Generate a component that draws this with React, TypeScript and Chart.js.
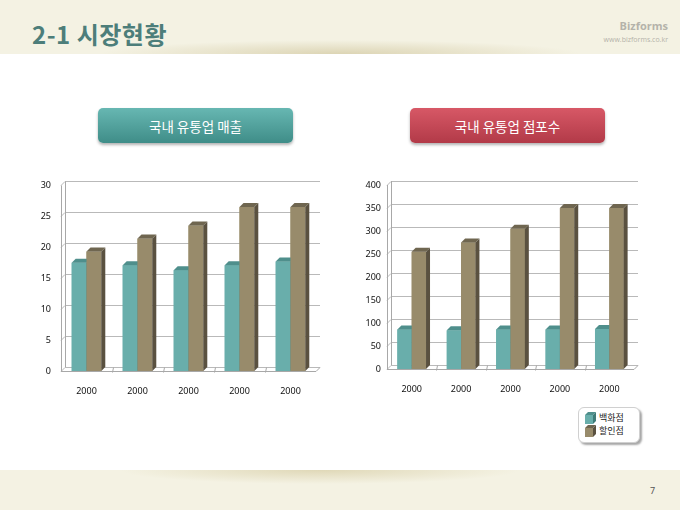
import React, { useEffect, useRef } from 'react';
import { Chart, registerables } from 'chart.js';

Chart.register(...registerables);

// ---------- data ----------
const categories = ['2000', '2000', '2000', '2000', '2000'];
const seriesNames = ['백화점', '할인점'];
const salesDept = [17.5, 17.1, 16.3, 17.1, 17.7];
const salesDiscount = [19.3, 21.4, 23.5, 26.5, 26.5];
const storesDept = [86, 84, 86, 86, 87];
const storesDiscount = [255, 275, 305, 350, 350];
const salesTicks = [0, 5, 10, 15, 20, 25, 30];
const storesTicks = [0, 50, 100, 150, 200, 250, 300, 350, 400];
const chartTitles = ['국내 유통업 매출', '국내 유통업 점포수'];
const slideTitle = '2-1 시장현황';
const pageNumber = '7';

// ---------- styles ----------
const FRONT = ['#69aeab', '#988b6b'];
const SIDE = ['#3f7b78', '#5a5140'];
const TOP = ['#4f8f8c', '#6f6650'];
const DX = 4;
const DY = 4;

const wallPlugin = {
  id: 'wall3d',
  beforeDatasetsDraw(chart: any) {
    const { ctx, chartArea: a, scales } = chart;
    const y = scales.y;
    const n = chart.data.labels.length;
    ctx.save();
    ctx.lineWidth = 1;
    ctx.strokeStyle = '#b9b9b9';
    y.ticks.forEach((t: any) => {
      const py = Math.round(y.getPixelForValue(t.value)) + 0.5;
      ctx.beginPath();
      ctx.moveTo(a.left, py);
      ctx.lineTo(a.left + DX, py - DY);
      ctx.lineTo(a.right + DX, py - DY);
      ctx.stroke();
    });
    ctx.strokeStyle = '#a8a8a8';
    const L = Math.round(a.left) + 0.5;
    ctx.beginPath();
    ctx.moveTo(L, a.top);
    ctx.lineTo(L, a.bottom);
    ctx.moveTo(L + DX, a.top - DY);
    ctx.lineTo(L + DX, a.bottom - DY);
    ctx.stroke();
    // floor
    const B = Math.round(a.bottom) + 0.5;
    ctx.beginPath();
    ctx.moveTo(a.left, B);
    ctx.lineTo(a.right, B);
    ctx.lineTo(a.right + DX, B - DY);
    ctx.stroke();
    for (let i = 1; i < n; i++) {
      const xb = Math.round(a.left + (i * a.width) / n) + 0.5;
      ctx.beginPath();
      ctx.moveTo(xb, B + 1);
      ctx.lineTo(xb + 1, B - DY);
      ctx.stroke();
    }
    ctx.restore();
  },
  afterDatasetsDraw(chart: any) {
    const { ctx } = chart;
    ctx.save();
    chart.data.datasets.forEach((_: any, di: number) => {
      const meta = chart.getDatasetMeta(di);
      meta.data.forEach((el: any) => {
        const { x, y, base, width } = el.getProps(['x', 'y', 'base', 'width'], true);
        const l = x - width / 2;
        const r = x + width / 2;
        ctx.fillStyle = FRONT[di];
        ctx.fillRect(l, y, width, base - y);
        ctx.fillStyle = SIDE[di];
        ctx.beginPath();
        ctx.moveTo(r, y);
        ctx.lineTo(r + DX, y - DY);
        ctx.lineTo(r + DX, base - DY);
        ctx.lineTo(r, base);
        ctx.closePath();
        ctx.fill();
        ctx.fillStyle = TOP[di];
        ctx.beginPath();
        ctx.moveTo(l, y);
        ctx.lineTo(l + DX, y - DY);
        ctx.lineTo(r + DX, y - DY);
        ctx.lineTo(r, y);
        ctx.closePath();
        ctx.fill();
      });
    });
    ctx.restore();
  },
};

type Props = {
  left: number;
  top: number;
  w: number;
  h: number;
  a: number[];
  b: number[];
  ticks: number[];
  yWidth: number;
  xHeight: number;
  padTop: number;
  padRight: number;
  yPad: number;
};

function Bar3D(p: Props) {
  const ref = useRef<HTMLCanvasElement>(null);
  useEffect(() => {
    const chart = new Chart(ref.current as HTMLCanvasElement, {
      type: 'bar',
      data: {
        labels: categories,
        datasets: [
          { label: seriesNames[0], data: p.a, backgroundColor: FRONT[0], borderWidth: 0 },
          { label: seriesNames[1], data: p.b, backgroundColor: FRONT[1], borderWidth: 0 },
        ],
      },
      options: {
        responsive: false,
        animation: false,
        devicePixelRatio: 1,
        datasets: { bar: { categoryPercentage: 0.58, barPercentage: 1 } },
        layout: { padding: { left: 0, top: p.padTop, right: p.padRight, bottom: 0 } },
        plugins: { legend: { display: false }, tooltip: { enabled: false }, title: { display: false } },
        scales: {
          x: {
            grid: { display: false },
            border: { display: false },
            ticks: { color: '#111', font: { family: 'Noto Sans', size: 9 }, padding: 7, maxRotation: 0 },
            afterFit: (s: any) => {
              s.height = p.xHeight;
            },
          },
          y: {
            min: p.ticks[0],
            max: p.ticks[p.ticks.length - 1],
            grid: { display: false, drawTicks: false },
            border: { display: false },
            ticks: { color: '#111', font: { family: 'Noto Sans', size: 9 }, padding: p.yPad },
            afterBuildTicks: (s: any) => {
              s.ticks = p.ticks.map((v) => ({ value: v }));
            },
            afterFit: (s: any) => {
              s.width = p.yWidth;
            },
          },
        },
      },
      plugins: [wallPlugin],
    });
    return () => chart.destroy();
  }, []);
  return (
    <canvas
      ref={ref}
      width={p.w}
      height={p.h}
      style={{ position: 'absolute', left: p.left, top: p.top, width: p.w, height: p.h }}
    />
  );
}

function Button({ left, text, top, bottom }: { left: number; text: string; top: string; bottom: string }) {
  return (
    <div
      style={{
        position: 'absolute',
        left,
        top: 108,
        width: 195,
        height: 35,
        borderRadius: 5,
        background: `linear-gradient(${top}, ${bottom})`,
        boxShadow: '0 2px 3px rgba(0,0,0,0.3)',
        color: '#fff',
        font: '13.5px "Noto Sans CJK KR"',
        display: 'flex',
        alignItems: 'center',
        justifyContent: 'center',
      }}
    >
      {text}
    </div>
  );
}

function Cube({ color, side, topc }: { color: string; side: string; topc: string }) {
  return (
    <svg width={12} height={12} style={{ display: 'block' }}>
      <rect x={0} y={3} width={8} height={9} fill={color} />
      <polygon points="0,3 3,0 11,0 8,3" fill={topc} />
      <polygon points="8,3 11,0 11,9 8,12" fill={side} />
    </svg>
  );
}

export default function App() {
  return (
    <div
      style={{
        position: 'fixed',
        left: 0,
        top: 0,
        width: 680,
        height: 510,
        background: '#fff',
        overflow: 'hidden',
        fontFamily: '"Noto Sans CJK KR", "Noto Sans", sans-serif',
      }}
    >
      {/* header */}
      <div style={{ position: 'absolute', left: 0, top: 0, width: 680, height: 54, background: '#f4f2e3' }} />
      <div
        style={{
          position: 'absolute',
          left: 100,
          top: 40,
          width: 480,
          height: 14,
          background: 'radial-gradient(ellipse 50% 100% at 50% 100%, rgba(210,200,160,0.7), rgba(244,242,227,0) 100%)',
        }}
      />
      <div
        style={{
          position: 'absolute',
          left: 32,
          top: 20,
          font: 'bold 24px "Noto Sans CJK KR"',
          letterSpacing: '0.5px',
          color: '#4d7e7a',
          lineHeight: '28px',
          whiteSpace: 'nowrap',
        }}
      >
        {slideTitle}
      </div>
      <div
        style={{
          position: 'absolute',
          right: 12,
          top: 19,
          font: 'bold 11px "Open Sans"',
          color: '#b4b3aa',
          lineHeight: '14px',
        }}
      >
        Bizforms
      </div>
      <div
        style={{
          position: 'absolute',
          right: 12,
          top: 35,
          font: '7px "Open Sans"',
          color: '#b4b3aa',
          lineHeight: '9px',
        }}
      >
        www.bizforms.co.kr
      </div>

      {/* footer */}
      <div style={{ position: 'absolute', left: 0, top: 470, width: 680, height: 40, background: '#f4f2e3' }} />
      <div
        style={{
          position: 'absolute',
          left: 120,
          top: 470,
          width: 400,
          height: 14,
          background: 'radial-gradient(ellipse 50% 100% at 50% 0%, rgba(215,205,165,0.7), rgba(244,242,227,0) 100%)',
        }}
      />
      <div style={{ position: 'absolute', left: 650, top: 484, font: '9px "Noto Sans"', color: '#555' }}>{pageNumber}</div>

      {/* buttons */}
      <Button left={98} text={chartTitles[0]} top="#67b7b2" bottom="#3f8d88" />
      <Button left={410} text={chartTitles[1]} top="#d75866" bottom="#b23a48" />

      {/* charts */}
      <Bar3D
        left={20}
        top={170}
        w={310}
        h={235}
        a={salesDept}
        b={salesDiscount}
        ticks={salesTicks}
        yWidth={41}
        xHeight={34}
        padTop={10}
        padRight={14}
        yPad={10}
      />
      <Bar3D
        left={340}
        top={170}
        w={310}
        h={235}
        a={storesDept}
        b={storesDiscount}
        ticks={storesTicks}
        yWidth={47}
        xHeight={36}
        padTop={15}
        padRight={16}
        yPad={6}
      />

      {/* legend */}
      <div
        style={{
          position: 'absolute',
          left: 578,
          top: 407,
          width: 60,
          height: 34,
          background: '#fff',
          border: '1px solid #d0d0d0',
          borderRadius: 6,
          boxShadow: '2px 2px 2px rgba(0,0,0,0.35)',
        }}
      >
        {seriesNames.map((name, i) => (
          <div
            key={name}
            style={{ position: 'absolute', left: 6, top: 4 + i * 13, display: 'flex', alignItems: 'center' }}
          >
            <Cube color={FRONT[i]} side={SIDE[i]} topc={TOP[i]} />
            <span style={{ font: '9px "Noto Sans CJK KR"', color: '#222', marginLeft: 2, lineHeight: '12px' }}>
              {name}
            </span>
          </div>
        ))}
      </div>
    </div>
  );
}
